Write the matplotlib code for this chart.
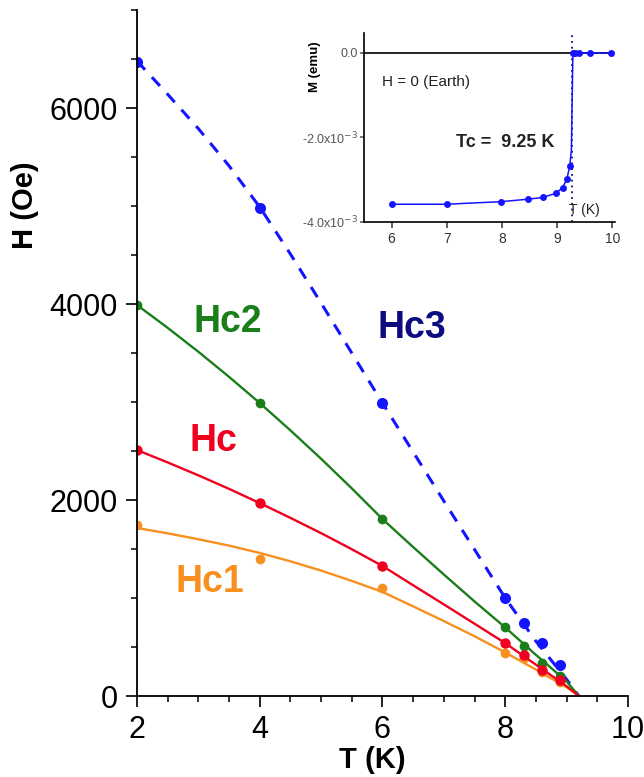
import matplotlib
matplotlib.use("Agg")
import matplotlib.pyplot as plt
from matplotlib.ticker import MultipleLocator, FixedLocator, FixedFormatter

plt.rcParams['font.family'] = ['Liberation Sans', 'DejaVu Sans']

# ---- main chart data (T in K, H in Oe) ----
T_pts = [2, 4, 6, 8, 8.3, 8.6, 8.9]
Hc3_pts = [6470, 4980, 2990, 1000, 745, 540, 316]
Hc2_pts = [3990, 2990, 1806, 704, 510, 337, 200]
Hc_pts = [2510, 1969, 1327, 540, 418, 265, 163]
Hc1_pts = [1745, 1400, 1100, 440, 388, 245, 143]

# fitted curves
T_fit = [2, 2.5, 3, 3.5, 4, 4.5, 5, 5.5, 6, 6.5, 7, 7.5, 8, 8.5, 9, 9.2]
Hc3_fit = [6480, 6140, 5790, 5410, 4990, 4510, 4010, 3500, 2990, 2490, 1990, 1495, 1000, 560, 170, 0]
Hc2_fit = [3990, 3757, 3513, 3257, 2990, 2711, 2421, 2119, 1806, 1520, 1240, 965, 700, 420, 150, 0]
Hc_fit = [2510, 2384, 2252, 2114, 1969, 1818, 1662, 1498, 1327, 1130, 935, 738, 540, 320, 100, 0]
Hc1_fit = [1715, 1660, 1600, 1535, 1460, 1375, 1280, 1175, 1062, 915, 765, 610, 445, 270, 90, 0]

# ---- inset data ----
T_in = [6.0, 7.0, 7.98, 8.48, 8.74, 8.98, 9.10, 9.18, 9.23, 9.26, 9.285, 9.29, 9.33, 9.40, 9.60, 9.98]
M_in = [-3.58e-3, -3.58e-3, -3.52e-3, -3.46e-3, -3.42e-3, -3.32e-3, -3.19e-3, -2.98e-3, -2.67e-3,
        -2.3e-3, -0.2e-3, 0.0, 0.0, 0.0, 0.0, 0.0]
T_in_mk = [6.0, 7.0, 7.98, 8.48, 8.74, 8.98, 9.10, 9.18, 9.23, 9.29, 9.33, 9.40, 9.60, 9.98]
M_in_mk = [-3.58e-3, -3.58e-3, -3.52e-3, -3.46e-3, -3.42e-3, -3.32e-3, -3.19e-3, -2.98e-3, -2.67e-3,
           0.0, 0.0, 0.0, 0.0, 0.0]
Tc = 9.28

blue = '#1414ff'
green = '#1a7f1a'
red = '#f0001e'
orange = '#f7901e'
navy = '#0c0c80'

fig = plt.figure(figsize=(6.44, 7.77), dpi=100)
ax = fig.add_axes([0.2127, 0.1042, 0.7624, 0.8829])

ax.plot(T_fit, Hc3_fit, color=blue, lw=2.2, dashes=(3.9, 3.3))
ax.plot(T_pts, Hc3_pts, 'o', color=blue, ms=8, mec='none')
ax.plot(T_fit, Hc2_fit, color=green, lw=1.7)
ax.plot(T_pts, Hc2_pts, 'o', color=green, ms=7, mec='none')
ax.plot(T_fit, Hc1_fit, color=orange, lw=1.7)
ax.plot(T_pts, Hc1_pts, 'o', color=orange, ms=7, mec='none')
ax.plot(T_fit, Hc_fit, color=red, lw=1.7)
ax.plot(T_pts, Hc_pts, 'o', color=red, ms=7.5, mec='none')

ax.set_xlim(2, 10)
ax.set_ylim(0, 7000)
for s in ['top', 'right']:
    ax.spines[s].set_visible(False)
for s in ['left', 'bottom']:
    ax.spines[s].set_linewidth(1.3)
ax.xaxis.set_major_locator(MultipleLocator(2))
ax.xaxis.set_minor_locator(MultipleLocator(0.5))
ax.yaxis.set_major_locator(MultipleLocator(2000))
ax.yaxis.set_minor_locator(MultipleLocator(500))
ax.tick_params(which='major', direction='out', length=8, width=1.2, labelsize=22, pad=6)
ax.tick_params(which='minor', direction='out', length=4.5, width=1.1)
ax.set_xlabel('T (K)', fontsize=21, fontweight='bold', va='center', ha='center')
ax.set_ylabel('H (Oe)', fontsize=21, fontweight='bold', va='center', ha='center')
ax.xaxis.set_label_coords(0.48, -0.093)
ax.yaxis.set_label_coords(-0.228, 0.716)

ax.text(6.48, 3755, 'Hc3', color=navy, fontsize=27, fontweight='bold', ha='center', va='center')
ax.text(3.48, 3816, 'Hc2', color=green, fontsize=27, fontweight='bold', ha='center', va='center')
ax.text(3.25, 2602, 'Hc', color=red, fontsize=27, fontweight='bold', ha='center', va='center')
ax.text(3.19, 1163, 'Hc1', color=orange, fontsize=27, fontweight='bold', ha='center', va='center')

# ---- inset ----
ins = fig.add_axes([0.5652, 0.7143, 0.3897, 0.2432])
ins.patch.set_alpha(0)
ins.axhline(0, color='black', lw=1.2, zorder=1)
ins.axvline(Tc, color=navy, lw=1.3, ls=(0, (1, 2.2)), zorder=1)
ins.plot(T_in, M_in, color=blue, lw=1.1, zorder=2)
ins.plot(T_in_mk, M_in_mk, 'o', color=blue, ms=5, mec='none', zorder=3)
ins.set_xlim(5.5, 10.05)
ins.set_ylim(-4e-3, 0.47e-3)
for s in ['top', 'right']:
    ins.spines[s].set_visible(False)
for s in ['left', 'bottom']:
    ins.spines[s].set_linewidth(1.2)
ins.xaxis.set_major_locator(FixedLocator([6, 7, 8, 9, 10]))
ins.yaxis.set_major_locator(FixedLocator([-4e-3, -2e-3, 0.0]))
ins.yaxis.set_major_formatter(FixedFormatter(['-4.0x10$^{-3}$', '-2.0x10$^{-3}$', '0.0']))
ins.tick_params(axis='x', direction='out', length=4, width=1.1, labelsize=10, pad=3, colors='#333333')
ins.tick_params(axis='y', direction='out', length=3, width=1.1, labelsize=9, pad=1.5, colors='#555555')
ins.set_ylabel('M (emu)', fontsize=9.5, fontweight='bold', va='center', ha='center')
ins.yaxis.set_label_coords(-0.195, 0.82)
ins.text(0.07, 0.74, 'H = 0 (Earth)', transform=ins.transAxes, fontsize=11,
         color='#222222', ha='left', va='center')
ins.text(0.365, 0.42, 'Tc =  9.25 K', transform=ins.transAxes, fontsize=13,
         fontweight='bold', color='#222222', ha='left', va='center')
ins.text(0.88, 0.065, 'T (K)', transform=ins.transAxes, fontsize=10,
         color='#222222', ha='center', va='center')

fig.savefig('out.png', dpi=100)
